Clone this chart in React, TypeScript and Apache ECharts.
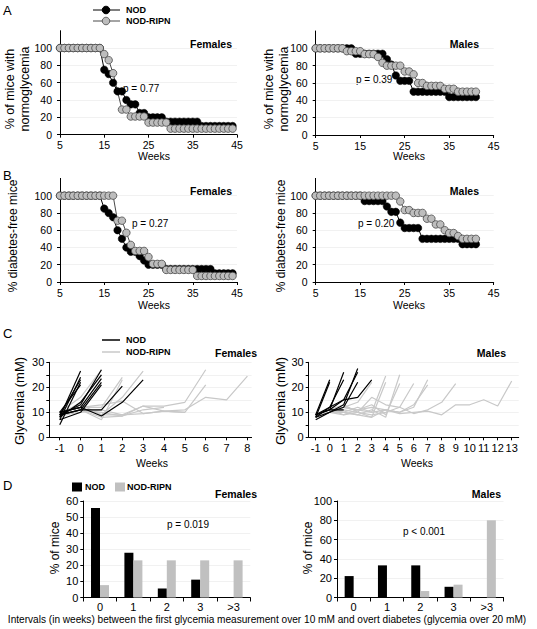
import React, { useEffect, useRef } from "react";
import * as echarts from "echarts";

const FONT = "'Liberation Sans', Arial, Helvetica, sans-serif";

// ---------- Panel A / B : Kaplan-Meier style curves (values from week 5) ----------
const KM_START_WEEK = 5;
const weekTicks = [5, 15, 25, 35, 45];
const pctTicks = [0, 20, 40, 60, 80, 100];

const femNormoNOD = [
  100, 100, 100, 100, 100, 100, 100, 100, 100, 100,
  75, 70, 60, 50, 50, 40, 35, 35, 25, 25,
  20, 20, 20, 20,
  15, 15, 15, 15, 15, 15, 15, 15,
  10, 10, 10, 10, 10, 10, 10, 10,
];
const femNormoRIPN = [
  100, 100, 100, 100, 100, 100, 100, 100, 100, 100,
  93, 86, 71, null, 29, 29, 21, 21, 21, 21,
  14, 14, 14, 14, 14,
  7, 7, 7, 7, 7, 7, 7, 7, 7, 7, 7, 7, 7, 7, 7,
];
const maleNormoNOD = [
  100, 100, 100, 100, 100, 100, 100, 100, 100,
  93.75, 93.75, 93.75, 93.75, 93.75, 93.75, 93.75,
  87.5, 81.25, 68.75,
  62.5, 62.5, 62.5,
  50, 50, 50, 50, 50, 50, 50, 50,
  43.75, 43.75, 43.75, 43.75, 43.75, 43.75, 43.75,
];
const maleNormoRIPN = [
  100, 100, 100, 100, 100, 100, 100,
  96.7, 96.7, 96.7, 96.7,
  93.3, 93.3, 93.3,
  90, 83.3,
  80, 80, 80, 80,
  73.3, 73.3,
  70,
  60, 60,
  56.7, 56.7, 56.7, 56.7,
  53.3, 53.3, 53.3,
  50, 50, 50, 50, 50,
];
const femFreeNOD = [
  100, 100, 100, 100, 100, 100, 100, 100, 100, 100,
  85, 80, 75, 60, 50, 40, 35, 35, 30, 25,
  20, 20, 20, 20,
  15, 15, 15, 15, 15, 15, 15, 15, 15, 15, 15,
  10, 10, 10, 10, 10,
];
const femFreeRIPN = [
  100, 100, 100, 100, 100, 100, 100, 100, 100, 100, 100, 100, 100,
  71, 71, 57, 43, 36, 36, 36, 29, 21, 21, 21,
  14, 14, 14, 14, 14, 14, 14,
  7, 7, 7, 7, 7, 7, 7, 7, 7,
];
const maleFreeNOD = [
  100, 100, 100, 100, 100, 100, 100, 100, 100, 100, 100,
  93.75, 93.75, 93.75, 93.75, 93.75,
  87.5, 81.25, 81.25, 68.75,
  62.5, 62.5, 62.5, 62.5,
  50, 50, 50, 50, 50, 50, 50, 50, 50,
  43.75, 43.75, 43.75, 43.75,
];
const maleFreeRIPN = [
  100, 100, 100, 100, 100, 100, 100, 100, 100, 100,
  100, 100, 100, 100, 100, 100, 100, 100, 100,
  93.3,
  83.3, 83.3,
  80, 80, 80,
  73.3, 73.3,
  66.7, 66.7,
  60,
  56.7, 56.7,
  53.3,
  50, 50, 50, 50,
];

// ---------- Panel C : glycemia per mouse, values from week -1 ----------
const GLY_START_WEEK = -1;
const glyTicks = [0, 10, 20, 30];
const femWeekLabels = [-1, 0, 1, 2, 3, 4, 5, 6, 7, 8];
const maleWeekLabels = [-1, 0, 1, 2, 3, 4, 5, 6, 7, 8, 9, 10, 11, 12, 13];

const femGlyNOD = [
  [8, 26.5],
  [7, 24],
  [9, 23],
  [5, 22],
  [10, 21],
  [9, 13, 27],
  [8, 14, 25],
  [10, 12, 23.5],
  [9, 11, 22],
  [7, 10, 21],
  [10, 12, 8.5, 14, 23],
  [9, 11, 11, 20.5],
];
const femGlyRIPN = [
  [10, 16, 27],
  [9, 14, 25],
  [10, 12, 12, 24],
  [9, 11, 7, 23],
  [10, 13, 9, 16, 26.5],
  [9, 11, 10, 8.5, 12.5, 10.5, 10, 21],
  [10, 12, 9, 9, 12.5, 12.5, 14, 27],
  [9, 10, 11, 9, 9.5, 10.5, 11, 16, 15, 24.5],
  [10, 12, 13, 14.5, 9.5, 10.5, 10],
  [8, 11, 8, 8.5, 11, 12],
];
const maleGlyNOD = [
  [9, 23],
  [8, 22],
  [9, 11, 26],
  [8, 12, 23],
  [9, 11, 11],
  [7, 10, 13, 27.5],
  [9, 11, 15, 26],
  [8, 10, 12, 22],
  [9, 12, 15, 16, 23],
];
const maleGlyRIPN = [
  [8, 11, 12, 14, 22],
  [9, 10, 10, 12, 10, 24.5],
  [8, 11, 9, 10, 8, 22],
  [9, 11, 10, 9, 11, 8, 25],
  [8, 10, 12, 11, 13, 9, 21.5],
  [9, 11, 13, 10, 16, 13, 12, 21.5],
  [8, 10, 9, 11, 12, 11, 10, 12, 23],
  [9, 11, 10, 9, 8, 11, 10, 13, 21],
  [8, 10, 11, 10, 9, 10, 12, 9.5, 11, 14, 21.5],
  [9, 10, 12, 11, 10, 11, 9.5, 10, 10.5, 9, 13, 13, 15, 12.5, 22.5],
];

// ---------- Panel D : intervals ----------
const intervalCats = ["0", "1", "2", "3", ">3"];
const femIntNOD = [55.6, 27.8, 5.6, 11.1, 0];
const femIntRIPN = [7.7, 23.1, 23.1, 23.1, 23.1];
const maleIntNOD = [22.2, 33.3, 33.3, 11.1, 0];
const maleIntRIPN = [0, 0, 6.7, 13.3, 80];

const BLACK = "#000000";
const GRAY_FILL = "#bdbdbd";
const GRAY_EDGE = "#4a4a4a";
const GRAY_LINE_C = "#c8c8c8";
const GRAY_BAR = "#c0c0c0";
const GRID_LINE = "#f1f1f1";

function kmData(values: (number | null)[]) {
  const out: number[][] = [];
  values.forEach((v, i) => {
    if (v !== null) out.push([KM_START_WEEK + i, v]);
  });
  return out;
}

function glyData(values: number[]) {
  return values.map((v, i) => [GLY_START_WEEK + i, v]);
}

function kmSeries(values: (number | null)[], idx: number, nod: boolean) {
  return {
    type: "line",
    xAxisIndex: idx,
    yAxisIndex: idx,
    data: kmData(values),
    symbol: "circle",
    symbolSize: 7.5,
    showSymbol: true,
    showAllSymbol: true,
    silent: true,
    lineStyle: { color: nod ? BLACK : GRAY_EDGE, width: 1 },
    itemStyle: nod
      ? { color: BLACK, borderColor: BLACK, borderWidth: 0.5 }
      : { color: GRAY_FILL, borderColor: GRAY_EDGE, borderWidth: 0.8 },
  };
}

function glySeries(values: number[], idx: number, nod: boolean) {
  return {
    type: "line",
    xAxisIndex: idx,
    yAxisIndex: idx,
    data: glyData(values),
    showSymbol: false,
    silent: true,
    lineStyle: { color: nod ? BLACK : GRAY_LINE_C, width: 1.2 },
  };
}

function barSeries(values: number[], idx: number, nod: boolean) {
  return {
    type: "bar",
    xAxisIndex: idx,
    yAxisIndex: idx,
    data: values,
    barWidth: 9,
    barGap: "0%",
    silent: true,
    itemStyle: { color: nod ? BLACK : GRAY_BAR },
  };
}

const axisLineStyle = { show: true, onZero: false, lineStyle: { color: "#000", width: 1 } };
const labelBase = { color: "#000", fontSize: 10.5, fontFamily: FONT };

function kmXAxis(grid: number) {
  return {
    type: "value",
    gridIndex: grid,
    min: 5,
    max: 45,
    axisLine: axisLineStyle,
    axisTick: { show: true, length: 3, customValues: weekTicks, lineStyle: { color: "#000" } },
    axisLabel: { ...labelBase, margin: 5, customValues: weekTicks },
    splitLine: { show: false },
  };
}
function kmYAxis(grid: number) {
  return {
    type: "value",
    gridIndex: grid,
    min: 0,
    max: 120,
    interval: 20,
    axisLine: axisLineStyle,
    axisTick: { show: true, length: 3, customValues: pctTicks, lineStyle: { color: "#000" } },
    axisLabel: { ...labelBase, margin: 8, customValues: pctTicks },
    splitLine: { show: true, lineStyle: { color: GRID_LINE } },
  };
}
function glyXAxis(grid: number, max: number, labels: number[]) {
  return {
    type: "value",
    gridIndex: grid,
    min: -1.5,
    max,
    axisLine: axisLineStyle,
    axisTick: { show: true, length: 3, customValues: labels, lineStyle: { color: "#000" } },
    axisLabel: { ...labelBase, fontSize: 11, margin: 5, customValues: labels },
    splitLine: { show: false },
  };
}
function glyYAxis(grid: number) {
  return {
    type: "value",
    gridIndex: grid,
    min: 0,
    max: 30,
    interval: 5,
    axisLine: axisLineStyle,
    axisTick: { show: true, length: 3, lineStyle: { color: "#000" } },
    axisLabel: { ...labelBase, fontSize: 11, margin: 5, customValues: glyTicks },
    splitLine: { show: true, lineStyle: { color: GRID_LINE } },
  };
}
function intXAxis(grid: number) {
  return {
    type: "category",
    gridIndex: grid,
    data: intervalCats,
    boundaryGap: true,
    axisLine: axisLineStyle,
    axisTick: { show: true, length: 4, alignWithLabel: false, lineStyle: { color: "#000" } },
    axisLabel: { ...labelBase, fontSize: 11, margin: 4 },
    splitLine: { show: false },
  };
}
function intYAxis(grid: number, max: number, interval: number) {
  return {
    type: "value",
    gridIndex: grid,
    min: 0,
    max,
    interval,
    axisLine: axisLineStyle,
    axisTick: { show: true, length: 3, lineStyle: { color: "#000" } },
    axisLabel: { ...labelBase, fontSize: 11, margin: 5 },
    splitLine: { show: true, lineStyle: { color: GRID_LINE } },
  };
}

function txt(
  text: string,
  x: number,
  y: number,
  opts: { size?: number; bold?: boolean; align?: string; rotate?: boolean; lh?: number } = {}
) {
  const align = opts.align || "left";
  return {
    type: "text",
    x,
    y,
    rotation: opts.rotate ? Math.PI / 2 : 0,
    silent: true,
    style: {
      text,
      fill: "#000",
      fontSize: opts.size || 10.5,
      fontFamily: FONT,
      fontWeight: opts.bold ? "bold" : "normal",
      lineHeight: opts.lh,
      align,
      textAlign: align,
      verticalAlign: "middle",
      textVerticalAlign: "middle",
    },
  };
}

function App() {
  const ref = useRef<HTMLDivElement>(null);

  useEffect(() => {
    document.body.style.margin = "0";
    if (!ref.current) return;
    const chart = echarts.init(ref.current, null, { renderer: "svg" });

    const grids = [
      { left: 60, top: 30.7, width: 177, height: 104 },
      { left: 315.7, top: 31, width: 178, height: 104 },
      { left: 60, top: 178.4, width: 177, height: 103.6 },
      { left: 315.7, top: 178.4, width: 178, height: 103.6 },
      { left: 49.3, top: 362.3, width: 202.3, height: 75 },
      { left: 308.7, top: 362.3, width: 210, height: 75 },
      { left: 83.3, top: 501, width: 167, height: 96.5 },
      { left: 337, top: 501, width: 166.5, height: 96.5 },
    ].map((g) => ({ ...g, containLabel: false, outerBoundsMode: "none" }));

    const series: any[] = [
      kmSeries(femNormoNOD, 0, true),
      kmSeries(femNormoRIPN, 0, false),
      kmSeries(maleNormoNOD, 1, true),
      kmSeries(maleNormoRIPN, 1, false),
      kmSeries(femFreeNOD, 2, true),
      kmSeries(femFreeRIPN, 2, false),
      kmSeries(maleFreeNOD, 3, true),
      kmSeries(maleFreeRIPN, 3, false),
      ...femGlyRIPN.map((m) => glySeries(m, 4, false)),
      ...femGlyNOD.map((m) => glySeries(m, 4, true)),
      ...maleGlyRIPN.map((m) => glySeries(m, 5, false)),
      ...maleGlyNOD.map((m) => glySeries(m, 5, true)),
      barSeries(femIntNOD, 6, true),
      barSeries(femIntRIPN, 6, false),
      barSeries(maleIntNOD, 7, true),
      barSeries(maleIntRIPN, 7, false),
    ];

    const graphic: any[] = [
      // panel letters
      txt("A", 3, 10, { size: 13 }),
      txt("B", 3, 175, { size: 13 }),
      txt("C", 3, 333, { size: 13 }),
      txt("D", 3, 485, { size: 13 }),
      // legend A
      { type: "line", silent: true, shape: { x1: 93, y1: 10, x2: 120, y2: 10 }, style: { stroke: BLACK, lineWidth: 1 } },
      { type: "circle", silent: true, shape: { cx: 106, cy: 10, r: 3.8 }, style: { fill: BLACK, stroke: BLACK } },
      { type: "line", silent: true, shape: { x1: 93, y1: 21, x2: 120, y2: 21 }, style: { stroke: GRAY_EDGE, lineWidth: 1 } },
      { type: "circle", silent: true, shape: { cx: 106, cy: 21, r: 3.8 }, style: { fill: GRAY_FILL, stroke: GRAY_EDGE, lineWidth: 0.8 } },
      txt("NOD", 126, 10, { size: 9, bold: true }),
      txt("NOD-RIPN", 126, 21, { size: 9, bold: true }),
      // legend C
      { type: "line", silent: true, shape: { x1: 102, y1: 340, x2: 120, y2: 340 }, style: { stroke: BLACK, lineWidth: 1.5 } },
      { type: "line", silent: true, shape: { x1: 102, y1: 352, x2: 120, y2: 352 }, style: { stroke: GRAY_LINE_C, lineWidth: 1.5 } },
      txt("NOD", 126, 340, { size: 9, bold: true }),
      txt("NOD-RIPN", 126, 352, { size: 9, bold: true }),
      // legend D
      { type: "rect", silent: true, shape: { x: 72, y: 482.5, width: 10, height: 9 }, style: { fill: BLACK } },
      { type: "rect", silent: true, shape: { x: 115, y: 482.5, width: 10, height: 9 }, style: { fill: GRAY_BAR } },
      txt("NOD", 85, 487, { size: 9, bold: true }),
      txt("NOD-RIPN", 127, 487, { size: 9, bold: true }),
      // sex labels
      txt("Females", 232, 44, { bold: true, align: "right" }),
      txt("Males", 479, 44, { bold: true, align: "right" }),
      txt("Females", 232, 191, { bold: true, align: "right" }),
      txt("Males", 479, 191, { bold: true, align: "right" }),
      txt("Females", 257, 353, { bold: true, align: "right" }),
      txt("Males", 506, 353, { bold: true, align: "right" }),
      txt("Females", 257, 494, { bold: true, align: "right" }),
      txt("Males", 501, 494, { bold: true, align: "right" }),
      // p-values
      txt("p = 0.77", 123, 88, { size: 10 }),
      txt("p = 0.39", 356, 79, { size: 10 }),
      txt("p = 0.27", 132, 223, { size: 10 }),
      txt("p = 0.20", 358, 223, { size: 10 }),
      txt("p = 0.019", 167, 524, { size: 10 }),
      txt("p < 0.001", 403, 531, { size: 10 }),
      // x axis names
      txt("Weeks", 154, 156, { align: "center" }),
      txt("Weeks", 409, 156, { align: "center" }),
      txt("Weeks", 154, 305, { align: "center" }),
      txt("Weeks", 409, 305, { align: "center" }),
      txt("Weeks", 152, 462.5, { align: "center" }),
      txt("Weeks", 417, 462.5, { align: "center" }),
      // y axis names
      txt("% of mice with\nnormoglycemia", 17.5, 89, { size: 12.5, align: "center", rotate: true, lh: 15 }),
      txt("% of mice with\nnormoglycemia", 276, 89, { size: 12.5, align: "center", rotate: true, lh: 15 }),
      txt("% diabetes-free mice", 13, 236, { size: 12, align: "center", rotate: true }),
      txt("% diabetes-free mice", 281, 236, { size: 12, align: "center", rotate: true }),
      txt("Glycemia (mM)", 19, 401, { size: 13, align: "center", rotate: true }),
      txt("Glycemia (mM)", 280, 401, { size: 13, align: "center", rotate: true }),
      txt("% of mice", 55, 548, { size: 12, align: "center", rotate: true }),
      txt("% of mice", 308, 548, { size: 12, align: "center", rotate: true }),
      // caption
      txt(
        "Intervals (in weeks) between the first glycemia measurement over 10 mM and overt diabetes (glycemia over 20 mM)",
        267,
        619,
        { size: 10.1, align: "center" }
      ),
    ];

    chart.setOption({
      animation: false,
      backgroundColor: "#ffffff",
      textStyle: { fontFamily: FONT },
      grid: grids,
      xAxis: [
        kmXAxis(0),
        kmXAxis(1),
        kmXAxis(2),
        kmXAxis(3),
        glyXAxis(4, 8.2, femWeekLabels),
        glyXAxis(5, 13.5, maleWeekLabels),
        intXAxis(6),
        intXAxis(7),
      ],
      yAxis: [
        kmYAxis(0),
        kmYAxis(1),
        kmYAxis(2),
        kmYAxis(3),
        glyYAxis(4),
        glyYAxis(5),
        intYAxis(6, 60, 10),
        intYAxis(7, 100, 20),
      ],
      series,
      graphic,
    });

    return () => {
      chart.dispose();
    };
  }, []);

  return <div ref={ref} style={{ width: 537, height: 629 }} />;
}

export default App;
